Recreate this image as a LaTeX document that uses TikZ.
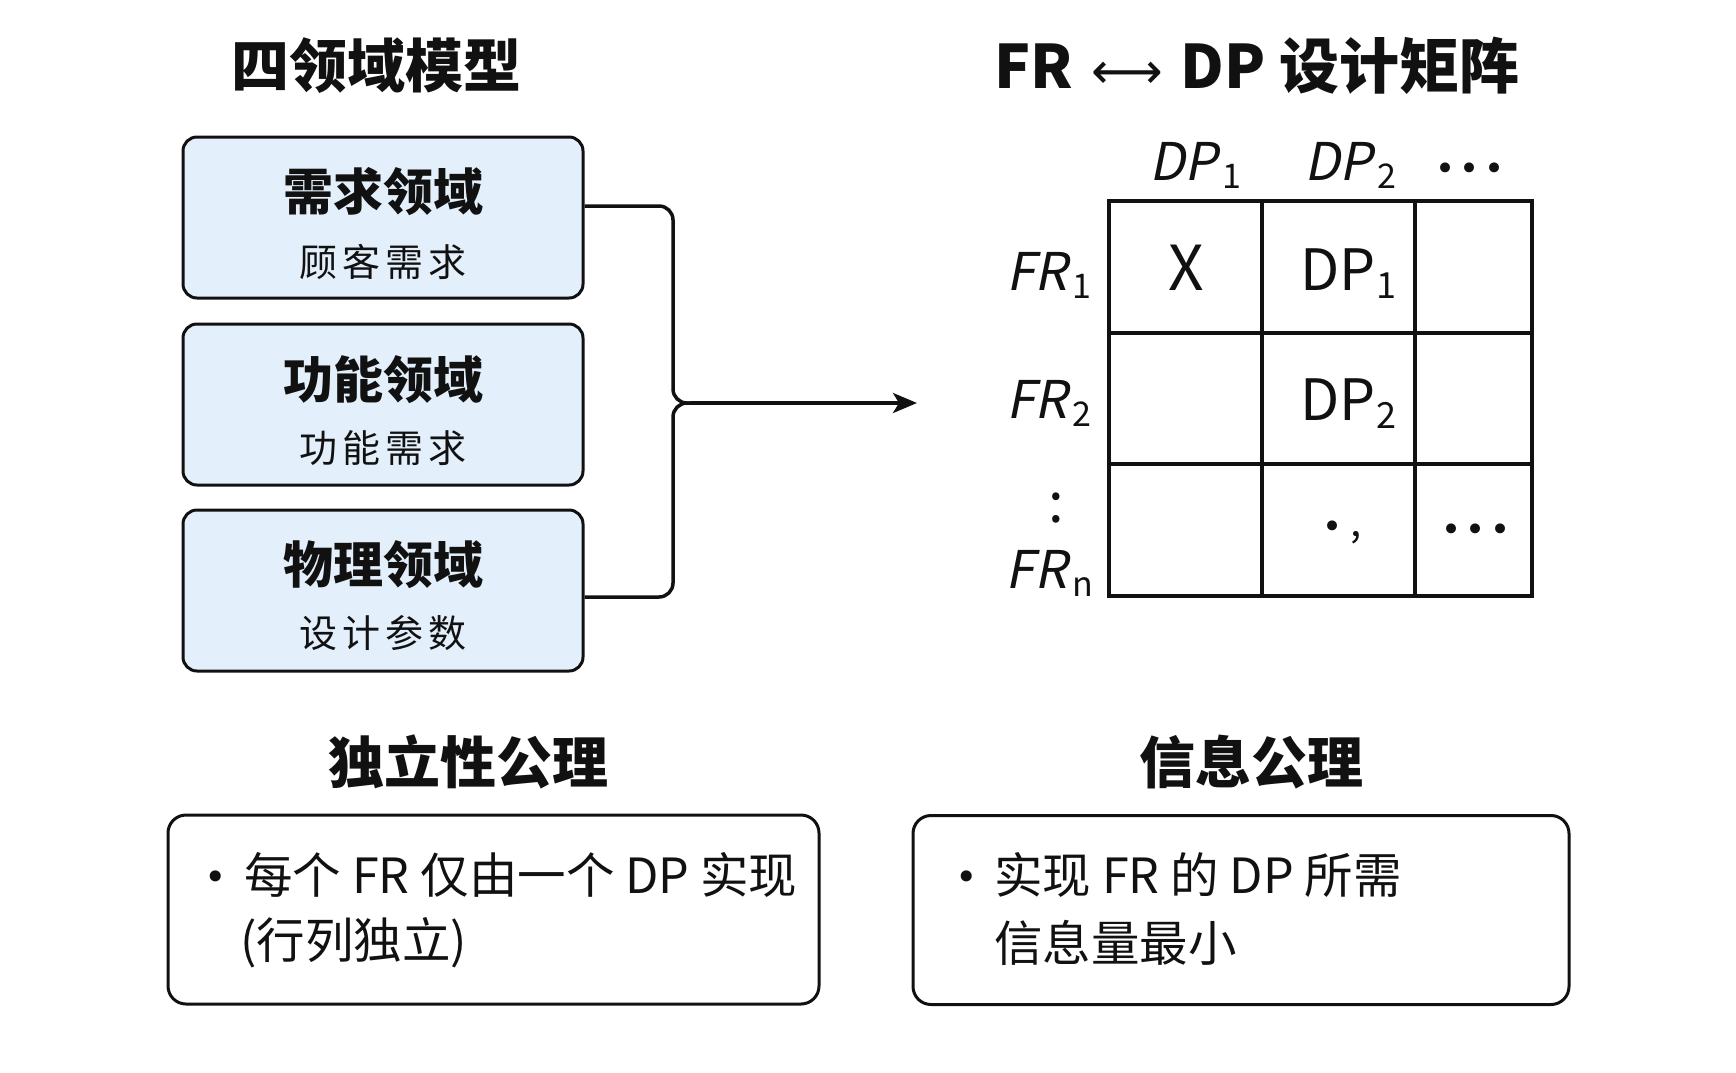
\documentclass[tikz,border=0pt]{standalone}
\usepackage{fontspec}
\setmainfont{Noto Sans CJK SC}
\newfontfamily\itf{Noto Sans CJK SC}[FakeSlant=0.2]
\newfontfamily\symf{DejaVu Sans}
\usetikzlibrary{arrows.meta}
\newcommand\fsz[1]{\fontsize{#1}{#1}\selectfont}
\newcommand\ilab[2]{{\itf #1}\hspace{5pt}\raisebox{-8pt}{\fsz{34}#2}}
\newcommand\ulab[2]{#1\hspace{1pt}\raisebox{-8pt}{\fsz{36}#2}}
\definecolor{boxfill}{HTML}{E3F0FB}
\definecolor{ink}{HTML}{111111}
\tikzset{
  dombox/.style={draw=ink, line width=3pt, rounded corners=14pt, fill=boxfill, minimum width=400pt, minimum height=161pt, inner sep=0pt},
  notebox/.style={draw=ink, line width=3pt, rounded corners=18pt, fill=white, minimum height=189pt, inner sep=0pt},
  conn/.style={draw=ink, line width=3.5pt},
  gridline/.style={draw=ink, line width=3.5pt},
  title/.style={font=\bfseries\fsz{58}, text=ink, inner sep=0pt},
  domtitle/.style={font=\bfseries\fsz{50}, text=ink, inner sep=0pt},
  domsub/.style={font=\fsz{38}, text=ink, inner sep=0pt},
  note/.style={font=\fsz{48.5}, text=ink, inner sep=0pt, anchor=west},
  lab/.style={font=\fsz{52}, text=ink, inner sep=0pt},
  dots/.style={font=\symf\fsz{34}, text=ink, inner sep=0pt},
}
\begin{document}
\begin{tikzpicture}[x=1pt,y=-1pt]
\useasboundingbox (0,0) rectangle (1736,1072);
% titles
\node[title] (tl) at (376,66) {四领域模型};
\node[title, font=\bfseries\fsz{60}] (tr) at (1257,66) {FR\hspace{18pt}{\symf\mdseries\fsz{50}⟷}\hspace{18pt}DP 设计矩阵};
% domain boxes
\node[dombox] (b1) at (383,217.5) {};
\node[dombox] (b2) at (383,404.5) {};
\node[dombox] (b3) at (383,590.5) {};
\node[domtitle] (t1) at (383,192) {需求领域};
\node[domsub] (s1) at (383,262) {顾\hspace{5pt}客\hspace{5pt}需\hspace{5pt}求};
\node[domtitle] (t2) at (383,380) {功能领域};
\node[domsub] (s2) at (383,448) {功\hspace{5pt}能\hspace{5pt}需\hspace{5pt}求};
\node[domtitle] (t3) at (383,565) {物理领域};
\node[domsub] (s3) at (383,633) {设\hspace{5pt}计\hspace{5pt}参\hspace{5pt}数};
% bracket and arrow
\coordinate (j) at (673,403);
\coordinate (jr) at (700,403);
\coordinate (aend) at (917,403);
\draw[conn, rounded corners=14pt] ([yshift=11.5pt]b1.east) -- (673,206) -- (j) -- (jr);
\draw[conn, rounded corners=14pt] ([yshift=-6.5pt]b3.east) -- (673,597) -- (j) -- (jr);
\draw[conn, -{Stealth[length=24pt,width=20pt,inset=6pt]}] (690,403) -- (aend);
% matrix grid
\draw[gridline] (1109,201) rectangle (1532,596);
\draw[gridline] (1262,201) -- (1262,596);
\draw[gridline] (1415,201) -- (1415,596);
\draw[gridline] (1109,333) -- (1532,333);
\draw[gridline] (1109,464) -- (1532,464);
% headers
\node[lab, anchor=base west] (h1) at (1149,180) {\ilab{DP}{1}};
\node[lab, anchor=base west] (h2) at (1304,180) {\ilab{DP}{2}};
\node[dots] (h3) at (1470,172) {•\hspace{4pt}•\hspace{4pt}•};
\node[lab, anchor=base east] (r1) at (1092,290) {\ilab{FR}{1}};
\node[lab, anchor=base east] (r2) at (1092,418) {\ilab{FR}{2}};
\node[font=\fsz{56}, text=ink, inner sep=0pt] (rv) at (1056,508) {:};
\node[lab, anchor=base east] (rn) at (1093,588) {\ilab{FR}{n}};
% cells
\node[font=\fsz{62}, text=ink, inner sep=0pt, anchor=base] (c11) at (1186,290) {X};
\node[font=\fsz{57}, text=ink, inner sep=0pt, anchor=base west] (c12) at (1300,290) {\ulab{DP}{1}};
\node[font=\fsz{57}, text=ink, inner sep=0pt, anchor=base west] (c22) at (1300,420) {\ulab{DP}{2}};
\node[text=ink, inner sep=0pt] (c32) at (1342,533) {{\symf\fsz{34}•}\hspace{8pt}\raisebox{2pt}{\fsz{40},}};
\node[dots] (c33) at (1476,533) {•\hspace{4pt}•\hspace{4pt}•};
% axioms
\node[title, font=\bfseries\fsz{56}] (al) at (468,762) {独立性公理};
\node[title, font=\bfseries\fsz{56}] (ar) at (1251,762) {信息公理};
\node[notebox, minimum width=651pt] (nl) at (493.5,909.5) {};
\node[notebox, minimum width=656pt] (nr) at (1241,910) {};
\node[dots, font=\symf\fsz{38}] (bl) at (216,881) {•};
\node[note] (l1) at (244,875) {每个 FR 仅由一个 DP 实现};
\node[note] (l2) at (240,943) {(行列独立)};
\node[dots, font=\symf\fsz{38}] (br) at (967,881) {•};
\node[note] (r1t) at (994,875) {实现 FR 的 DP 所需};
\node[note] (r2t) at (994,943) {信息量最小};
\end{tikzpicture}
\end{document}
